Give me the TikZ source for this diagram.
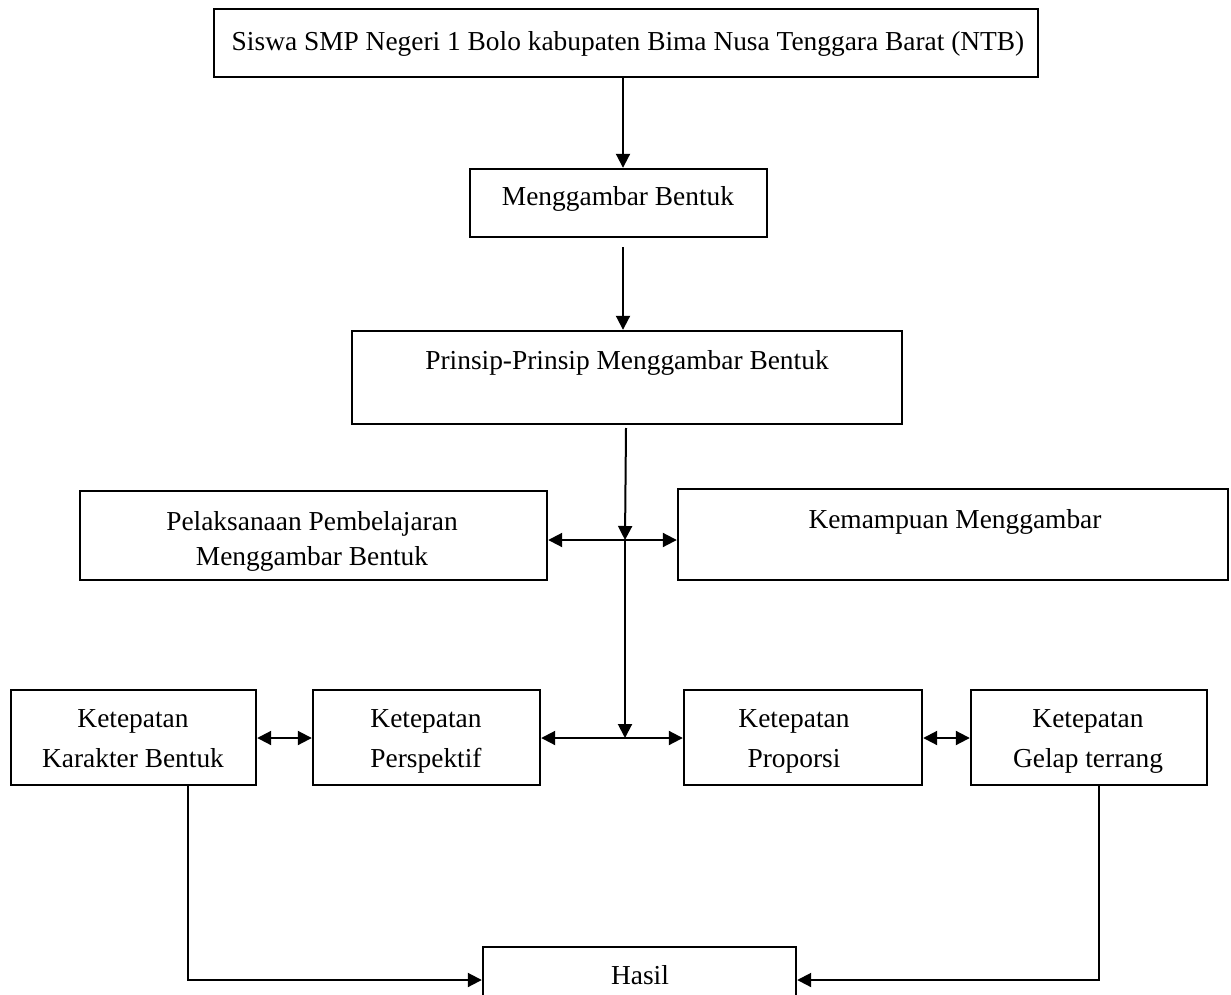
\documentclass[tikz,border=0pt]{standalone}
\usepackage{fontspec}
\setmainfont{Liberation Serif}
\usetikzlibrary{arrows.meta}
\begin{document}
\begin{tikzpicture}[x=0.5pt,y=-0.5pt,
  box/.style={draw, line width=1.2pt, inner sep=0pt},
  txt/.style={font=\fontsize{13.7}{17.5}\selectfont, align=center, inner sep=0pt},
  txtb/.style={font=\fontsize{13.7}{20}\selectfont, align=center, inner sep=0pt},
  conn/.style={line width=1pt, -{Triangle[length=7pt,width=7pt]}},
  dconn/.style={line width=1pt, {Triangle[length=7pt,width=7pt]}-{Triangle[length=7pt,width=7pt]}}]
\useasboundingbox (0,0) rectangle (1231,995);
\clip (0,0) rectangle (1231,995);
% boxes
\node[box, minimum width=412pt, minimum height=34pt] (top) at (626,43) {};
\node[box, minimum width=148.5pt, minimum height=34pt] (box2) at (618.5,203) {};
\node[box, minimum width=275pt, minimum height=46.5pt] (box3) at (627,377.5) {};
\node[box, minimum width=233.5pt, minimum height=44.5pt] (left) at (313.5,535.5) {};
\node[box, minimum width=275pt, minimum height=45.5pt] (right) at (953,534.5) {};
\node[box, minimum width=122.5pt, minimum height=47.5pt] (b1) at (133.5,737.5) {};
\node[box, minimum width=113.5pt, minimum height=47.5pt] (b2) at (426.5,737.5) {};
\node[box, minimum width=119pt, minimum height=47.5pt] (b3) at (803,737.5) {};
\node[box, minimum width=118pt, minimum height=47.5pt] (b4) at (1089,737.5) {};
\node[box, minimum width=156.5pt, minimum height=31.5pt] (hasil) at (639.5,978.5) {};
% texts
\node[txt] (toptxt) at (628,44) {Siswa SMP Negeri 1 Bolo kabupaten Bima Nusa Tenggara Barat (NTB)\strut};
\node[txt] (box2txt) at (618,199) {Menggambar Bentuk\strut};
\node[txt] (box3txt) at (627,362) {Prinsip-Prinsip Menggambar Bentuk\strut};
\node[txt] (lefttxt) at (312,541) {Pelaksanaan Pembelajaran\strut\\Menggambar Bentuk\strut};
\node[txt] (righttxt) at (955,521) {Kemampuan Menggambar\strut};
\node[txtb] (b1txt) at (133,739) {Ketepatan\strut\\Karakter Bentuk\strut};
\node[txtb] (b2txt) at (426,739) {Ketepatan\strut\\Perspektif\strut};
\node[txtb] (b3txt) at (794,739) {Ketepatan\strut\\Proporsi\strut};
\node[txtb] (b4txt) at (1088,739) {Ketepatan\strut\\Gelap terrang\strut};
\node[txt] (hasiltxt) at (640,977) {Hasil\strut};
% coordinates
\coordinate (a1) at (623,0);
\coordinate (s2) at (623,247);
\coordinate (s3) at (626,428);
\coordinate (j1) at (625,540);
\coordinate (j2) at (625,738);
\coordinate (c1) at (188,980);
\coordinate (c2) at (1099,980);
% connectors
\draw[conn] (a1 |- top.south) -- (a1 |- box2.north);
\draw[conn] (s2) -- (s2 |- box3.north);
\draw[conn] (s3) -- (j1);
\draw[dconn] (left.east |- j1) -- (right.west |- j1);
\draw[conn] (j1) -- (j2);
\draw[dconn] (b1.east |- j2) -- (b2.west |- j2);
\draw[dconn] (b2.east |- j2) -- (b3.west |- j2);
\draw[dconn] (b3.east |- j2) -- (b4.west |- j2);
\draw[conn] (c1 |- b1.south) -- (c1) -- (hasil.west |- c1);
\draw[conn] (c2 |- b4.south) -- (c2) -- (hasil.east |- c2);
\end{tikzpicture}
\end{document}
